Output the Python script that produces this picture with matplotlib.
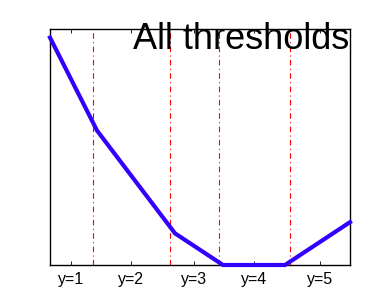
import matplotlib
matplotlib.use('Agg')
import matplotlib.pyplot as plt

# loss curve vertices (margin units)
z = [-3.0, -2.06, -0.5, 0.46, 1.7, 3.0]
loss = [6.9, 4.08, 0.96, 0.0, 0.0, 1.3]
thresholds = [-2.15, -0.6, 0.37, 1.8]
tick_pos = [-2.575, -1.375, -0.115, 1.085, 2.4]
tick_lab = ['y=1', 'y=2', 'y=3', 'y=4', 'y=5']

plt.rcParams['font.family'] = ['Liberation Sans', 'DejaVu Sans']
fig = plt.figure(figsize=(3.72, 2.96), dpi=100)
ax = fig.add_axes([50/372, 1-265/296, 300/372, (265-29)/296])

for t in thresholds:
    ax.axvline(t, color='red', lw=0.8, ls=(0, (5, 3, 1, 3)))
ax.plot(z, loss, color='#3300ff', lw=3, solid_joinstyle='miter', clip_on=False, zorder=3)

ax.set_xlim(-3, 3)
ax.set_ylim(0, 7.16)
ax.set_yticks([])
ax.set_xticks(tick_pos)
ax.set_xticklabels(tick_lab, fontsize=11.5)
ax.tick_params(axis='x', direction='in', top=True, length=3, width=0.6, pad=5)
for s in ax.spines.values():
    s.set_linewidth(1)

ax.text(0.997, 0.915, 'All thresholds', transform=ax.transAxes, ha='right',
        va='baseline', fontsize=26, zorder=5)

fig.savefig('out.png', dpi=100)
